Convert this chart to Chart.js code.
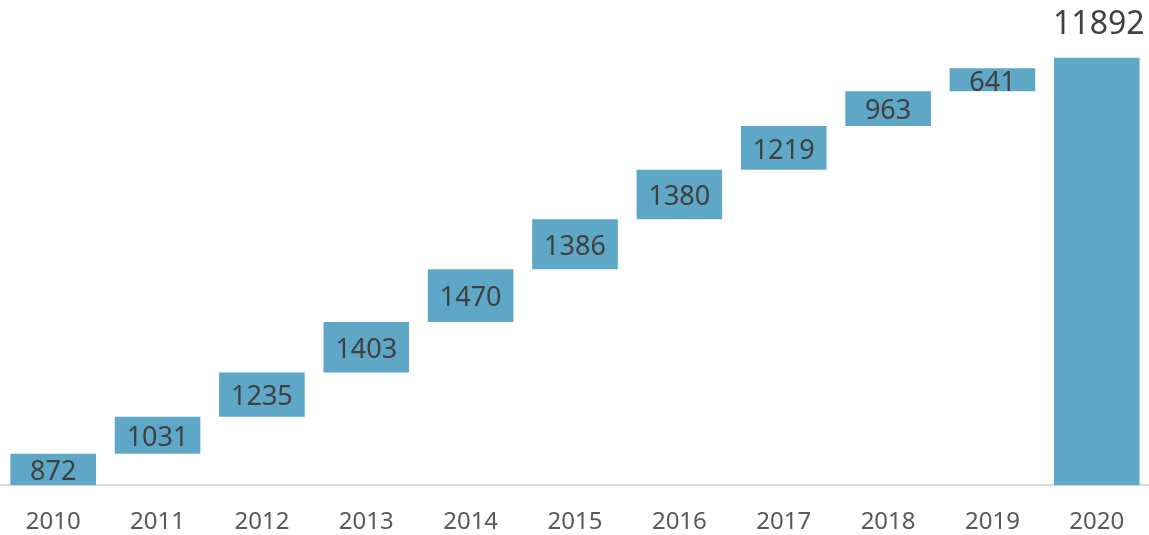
<!DOCTYPE html>
<html>
<head>
<meta charset="utf-8">
<script src="https://cdn.jsdelivr.net/npm/chart.js@4/dist/chart.umd.min.js"></script>
<style>
    html, body { margin: 0; padding: 0; background: #fff; }
    #wrap { width: 1149px; height: 535px; }
</style>
</head>
<body>
<div id="wrap"><canvas id="waterfall"></canvas></div>
<script>
var years   = ['2010','2011','2012','2013','2014','2015','2016','2017','2018','2019','2020'];
var changes = [872, 1031, 1235, 1403, 1470, 1386, 1380, 1219, 963, 641];
var total   = 11892;

// floating bars: each step starts where the previous one ended, last bar is the total
var bars = [];
var running = 0;
changes.forEach(function (v) {
    bars.push([running, running + v]);
    running += v;
});
bars.push([0, total]);
var labels = changes.concat([total]);

var barLabels = {
    id: 'barLabels',
    afterDatasetsDraw: function (chart) {
        var ctx = chart.ctx;
        var meta = chart.getDatasetMeta(0);
        ctx.save();
        ctx.fillStyle = '#404040';
        ctx.textAlign = 'center';
        meta.data.forEach(function (bar, i) {
            if (i === labels.length - 1) {
                ctx.font = '32px "Noto Sans"';
                ctx.textBaseline = 'bottom';
                ctx.fillText(labels[i], bar.x + 2, bar.y - 17);
            } else {
                ctx.font = '27px "Noto Sans"';
                ctx.textBaseline = 'middle';
                ctx.fillText(labels[i], bar.x, (bar.y + bar.base) / 2 + 3);
            }
        });
        ctx.restore();
    }
};

new Chart(document.getElementById('waterfall').getContext('2d'), {
    type: 'bar',
    data: {
        labels: years,
        datasets: [{
            data: bars,
            backgroundColor: '#5fa7c7',
            borderWidth: 0,
            barPercentage: 0.82,
            categoryPercentage: 1
        }]
    },
    options: {
        responsive: true,
        maintainAspectRatio: false,
        animation: false,
        layout: { padding: { top: 18, bottom: -17, left: 1 } },
        plugins: {
            legend: { display: false },
            tooltip: { enabled: false }
        },
        scales: {
            x: {
                grid: { display: false },
                border: { color: '#d9d9d9', width: 2 },
                ticks: {
                    color: '#595959',
                    font: { family: 'Noto Sans', size: 24 },
                    padding: 15
                }
            },
            y: {
                display: false,
                min: 0,
                max: 13000
            }
        }
    },
    plugins: [barLabels]
});
</script>
</body>
</html>
